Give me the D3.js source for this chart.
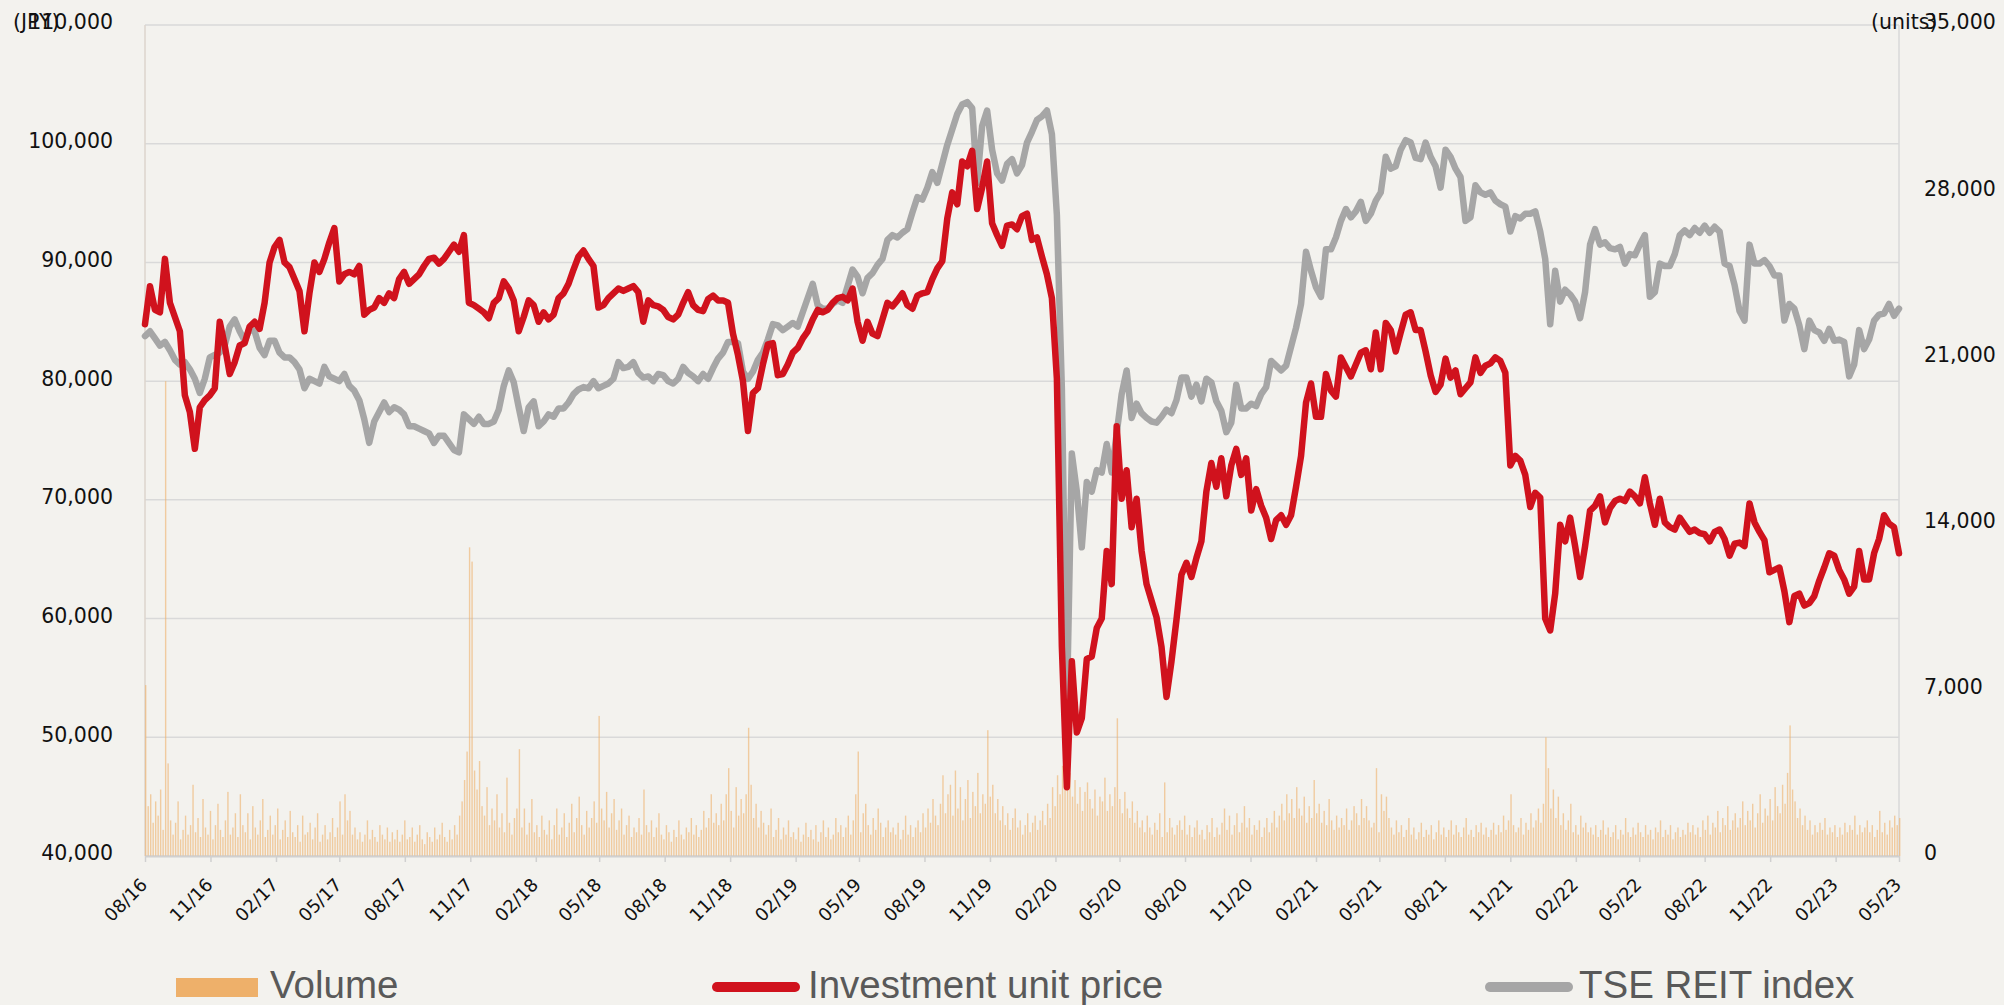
<!DOCTYPE html>
<html>
<head>
<meta charset="utf-8">
<script src="https://cdn.jsdelivr.net/npm/d3@7"></script>
<style>
  html, body { margin: 0; padding: 0; background: #f3f2ee; }
  svg { display: block; }
</style>
</head>
<body>
<svg id="chart" width="2004" height="1005"></svg>
<script>
// ---- data -------------------------------------------------------------
// Weekly closes starting from the first week of August 2016.
const seriesStart = "2016-08-01";

// x-axis labels (quarterly)
const tickLabels = ["08/16","11/16","02/17","05/17","08/17","11/17","02/18","05/18","08/18","11/18",
  "02/19","05/19","08/19","11/19","02/20","05/20","08/20","11/20","02/21","05/21",
  "08/21","11/21","02/22","05/22","08/22","11/22","02/23","05/23"];

const leftTicks = [40000, 50000, 60000, 70000, 80000, 90000, 100000, 110000];
const rightTicks = [0, 7000, 14000, 21000, 28000, 35000];

// Investment unit price (JPY), weekly
const unitPrice = [
  84800,88000,86000,85800,90300,86600,85400,84200,78800,77400,
  74300,77800,78400,78800,79400,85000,83000,80600,81600,83000,
  83200,84600,85000,84400,86600,90000,91300,91900,90000,89600,
  88600,87600,84200,87400,90000,89200,90300,91700,92900,88400,
  89000,89200,89000,89700,85600,86000,86200,87000,86600,87400,
  87000,88600,89200,88200,88600,89000,89700,90300,90400,89900,
  90300,90900,91500,90900,92300,86600,86400,86100,85800,85300,
  86600,87000,88400,87800,86800,84200,85400,86800,86400,85000,
  85800,85200,85600,87000,87400,88200,89400,90500,91000,90300,
  89700,86200,86400,87000,87400,87800,87600,87800,88000,87500,
  85000,86800,86400,86300,86000,85400,85200,85600,86600,87500,
  86400,86000,85900,86900,87200,86800,86800,86600,84000,82200,
  80000,75800,79000,79400,81400,83100,83200,80500,80600,81400,
  82400,82800,83600,84200,85200,86000,85800,86000,86600,87000,
  87100,86800,87800,85000,83400,85000,84000,83800,85200,86600,
  86300,86800,87400,86400,86100,87200,87400,87500,88600,89500,
  90100,93700,95900,94900,98500,98100,99400,94500,96300,98500,
  93300,92300,91400,93100,93200,92800,93900,94100,91900,92100,
  90500,89000,87000,80200,57600,45800,56400,50400,51600,56600,
  56800,59200,60000,65700,62900,76200,70100,72500,67700,70100,
  65700,62900,61500,60100,57600,53400,56400,59900,63700,64700,
  63500,65100,66500,70700,73100,71100,73500,70300,72900,74300,
  72100,73500,69100,70900,69500,68500,66700,68300,68700,67900,
  68700,71100,73700,78200,79800,77000,77000,80600,79200,78700,
  82000,81200,80400,81400,82400,82600,81000,84100,81000,84900,
  84300,82500,84100,85600,85800,84300,84300,82500,80500,79100,
  79700,81900,80300,80900,78900,79400,79900,82000,80700,81300,
  81500,82000,81700,80700,72900,73700,73300,72100,69400,70600,
  70200,60000,59000,62100,67900,66500,68500,66100,63500,66100,
  69100,69500,70300,68100,69300,69900,70100,69900,70700,70300,
  69700,71900,69700,67900,70100,68100,67700,67500,68500,67900,
  67300,67500,67200,67100,66500,67300,67500,66700,65300,66300,
  66400,66100,69700,68100,67300,66600,63900,64100,64300,62300,
  59700,61900,62100,61100,61300,61900,63200,64300,65500,65300,
  64100,63300,62100,62700,65700,63300,63300,65500,66700,68700,
  68000,67700,65500
];

// TSE REIT index, rebased to the unit price at the start of the period (JPY scale), weekly
const reitIndexRebased = [
  83800,84200,83600,83000,83300,82600,81800,81400,81600,81000,
  80200,79000,80200,82000,82200,82400,83000,84600,85200,84200,
  83400,84400,84200,82800,82200,83400,83400,82400,82000,82000,
  81600,81000,79400,80200,80000,79800,81200,80400,80200,80000,
  80600,79600,79200,78400,76800,74800,76600,77400,78200,77400,
  77800,77600,77200,76200,76200,76000,75800,75600,74800,75400,
  75400,74800,74200,74000,77200,76800,76400,77000,76400,76400,
  76600,77600,79600,80900,79900,77800,75800,77800,78300,76200,
  76600,77200,77000,77700,77700,78200,78900,79300,79500,79400,
  80000,79400,79600,79800,80200,81600,81100,81200,81600,80700,
  80300,80400,80000,80600,80500,80000,79800,80200,81200,80700,
  80400,80000,80600,80200,81100,81900,82400,83300,83300,83200,
  80800,80200,80800,81800,82400,83500,84800,84700,84300,84600,
  84900,84600,85800,87000,88200,86400,86100,86100,86500,86800,
  86600,88000,89400,88800,87400,88700,89100,89800,90300,91900,
  92300,92100,92500,92800,94200,95500,95300,96300,97600,96700,
  98300,99900,101200,102500,103300,103500,103000,96700,101500,102800,
  99500,97500,96900,98300,98700,97500,98200,100100,101000,102000,
  102300,102800,100800,94000,79400,52400,73900,70700,66000,71500,
  70700,72500,72300,74700,72300,75600,78900,80900,76900,78100,
  77300,76900,76600,76500,77000,77600,77300,78400,80300,80300,
  78700,79700,78300,80200,79900,78300,77500,75700,76500,79700,
  77700,77700,78100,77900,78900,79500,81700,81300,80900,81300,
  82900,84500,86500,90900,89300,87900,87100,91100,91100,92100,
  93500,94500,93800,94300,95100,93500,94100,95200,95900,98900,
  97900,98100,99500,100300,100100,98800,98700,100100,98900,98100,
  96300,99500,98900,97900,97200,93500,93800,96500,95900,95700,
  95900,95200,94900,94700,92600,93900,93700,94100,94100,94300,
  92600,90300,84800,89300,86700,87700,87300,86700,85300,87500,
  91500,92800,91500,91700,91200,91100,91300,89900,90700,90600,
  91500,92300,87100,87500,89900,89700,89700,90700,92300,92700,
  92300,92900,92500,93100,92500,93000,92600,89900,89700,88100,
  85900,85100,91500,89900,89900,90200,89700,88900,88900,85100,
  86500,86100,84700,82700,85100,84300,84100,83400,84400,83400,
  83500,83300,80400,81400,84300,82700,83500,85100,85600,85700,
  86500,85500,86100
];

// Trading volume (units), twice a week
const volume = [
  7200,2100,2600,1400,2300,1700,2800,1100,20000,3900,1500,900,1400,2300,700,1100,1700,900,1300,3000,
  1000,1600,800,2400,1200,900,1900,700,1300,2200,1100,800,1500,2700,900,1200,1800,800,2600,1300,
  1000,1800,700,2100,1200,900,1500,2400,800,1100,1700,900,1300,2000,700,1100,1500,800,1900,1000,
  800,1300,600,1700,900,1000,1400,700,1200,1800,600,900,1300,700,1000,1600,800,1200,2300,900,
  2600,1500,1900,900,1200,700,1000,600,900,1500,700,1100,800,600,1300,900,700,1200,600,1000,
  700,1100,600,900,1500,700,800,1200,600,900,1300,700,500,1000,800,600,1200,700,900,1400,
  800,600,1100,700,1300,900,1700,2300,3200,4400,13000,12400,3600,2800,4000,2100,1700,2900,1300,2000,
  1500,2600,1200,1800,1000,3300,1400,900,1600,2000,4500,1200,2000,900,1400,2400,1000,1300,800,1700,
  1100,900,1500,700,1300,2000,900,1200,1800,800,1400,2200,1000,1600,2500,1300,900,1900,1200,1600,
  2300,1400,5900,2000,1500,2700,1200,1800,2400,1100,1500,2000,900,1300,1700,800,1200,1000,1600,900,
  2800,1300,1000,1500,800,1200,1800,900,700,1300,1000,600,1100,800,1500,900,700,1200,1000,1600,
  900,1300,800,1100,1900,1200,1600,2600,1400,1800,1300,2200,1500,2600,3700,1900,1200,2900,1700,2400,
  1800,2600,5400,3000,1600,2200,1200,1900,1400,900,1300,2000,800,1100,1600,700,1200,900,1500,800,
  1000,700,1200,600,900,1400,800,1100,700,1300,600,1000,1500,800,1200,700,900,1600,1000,1300,
  800,1200,1700,900,1500,2600,4400,1000,1800,2200,1300,900,1600,1100,2000,1400,800,1200,1500,1000,
  1200,900,1400,700,1100,1700,900,1300,800,1200,1500,1000,1800,1200,2000,1400,2400,1700,1300,2200,
  3400,1800,2600,3000,1700,3600,2000,2900,1500,2400,3200,1600,2700,2100,3500,1800,2600,2200,5300,2500,
  3000,1800,2400,1500,2100,1300,1800,1100,1600,2000,1200,1500,900,1300,1800,1000,1400,1700,1100,1500,
  1900,1300,2200,1600,2900,2100,3400,2600,3800,3100,2800,3500,2500,3200,2200,2900,1900,2700,3100,2400,
  2000,2800,1700,2500,2300,3300,1900,2600,2100,2900,5800,2400,1800,2700,2000,1600,2300,1400,1900,1200,
  1500,1000,1700,1200,900,1400,1100,1800,800,3100,1000,1600,1200,900,1300,1500,1100,1700,900,1300,
  800,1200,1500,900,1100,700,1300,1000,1600,800,1200,900,1400,2000,1100,1700,900,1300,1800,1000,
  1400,2100,1200,1600,900,1300,1100,1500,800,1200,1600,1000,1400,1900,1200,1700,2200,1500,2600,1800,
  2400,1600,2900,2000,1700,2500,1400,2100,1600,3200,1800,2200,1400,1900,1300,2400,1500,1100,1700,1200,
  1600,1300,2000,1100,1500,2100,1800,1300,2400,1600,2100,1500,1200,1400,3700,1000,2600,1900,2500,1600,
  1200,900,1500,1000,1300,800,1100,1600,900,1200,700,1000,1400,800,1100,900,1300,700,1000,1500,
  900,1200,800,1100,1500,900,1300,1000,800,1200,1600,900,1100,800,1300,1000,1400,900,1200,800,
  1100,1400,900,1300,1000,1700,1100,1500,2600,1300,1000,1200,1600,900,1400,1100,1800,1200,1500,2000,
  1400,2200,5000,3700,2000,2800,1600,2500,1300,1800,1100,1500,2200,1000,1300,900,1700,1200,1400,1000,
  1200,900,1300,800,1100,1500,900,1200,800,1000,1300,700,1100,900,1600,1000,800,1200,900,1400,
  1000,800,1300,900,1100,700,1200,1000,1500,800,1100,900,1300,700,1000,1200,800,1100,900,1400,
  1000,1300,900,1200,800,1500,1100,1700,900,1400,1200,1900,1000,1600,1300,2100,1100,1500,1800,1200,
  1600,2300,1300,1900,1500,2200,1200,1800,2600,1400,2000,1700,2400,1500,2900,2100,1800,3000,2200,3500,
  5500,2800,2300,1600,2000,1300,1700,1100,1500,900,1300,1000,1400,1100,1600,900,1200,1000,1300,800,
  1200,900,1400,1000,1300,1100,1700,900,1300,1000,1200,1500,1000,1300,800,1100,1900,1000,1400,900,
  1500,1200,1700,1300,1600
];

const legendItems = ["Volume", "Investment unit price", "TSE REIT index"];

// ---- layout -----------------------------------------------------------
const plot = { left: 145, right: 1899, top: 25, bottom: 856 };
const colors = { volume: "#eeb06a", price: "#d0121d", reit: "#a6a6a6", grid: "#d9d9d9" };
const axisFont = "'DejaVu Sans', Verdana, sans-serif";
const legendFont = "'Liberation Sans', Arial, sans-serif";

const svg = d3.select("#chart");
svg.append("rect").attr("width", 2004).attr("height", 1005).attr("fill", "#f3f2ee");

const parseDay = d3.utcParse("%Y-%m-%d");
const parseMonth = d3.utcParse("%m/%y");
const start = parseDay(seriesStart);
const tickDates = tickLabels.map(parseMonth);
const end = tickDates[tickDates.length - 1];

const x = d3.scaleUtc().domain([start, end]).range([plot.left, plot.right]);
const yLeft = d3.scaleLinear().domain([40000, 110000]).range([plot.bottom, plot.top]);
const yRight = d3.scaleLinear().domain([0, 35000]).range([plot.bottom, plot.top]);

const priceData = unitPrice.map((v, k) => ({ date: d3.utcDay.offset(start, 7 * k), v }));
const reitData = reitIndexRebased.map((v, k) => ({ date: d3.utcDay.offset(start, 7 * k), v }));
const volumeData = volume
  .map((v, j) => ({ date: d3.utcHour.offset(start, 84 * j), v }))
  .filter(d => d.date <= end);

// gridlines
svg.append("g")
  .selectAll("line")
  .data(leftTicks)
  .join("line")
  .attr("x1", plot.left).attr("x2", plot.right)
  .attr("y1", d => yLeft(d)).attr("y2", d => yLeft(d))
  .attr("stroke", colors.grid).attr("stroke-width", 1.5);

// frame sides
svg.append("line").attr("x1", plot.left).attr("x2", plot.left)
  .attr("y1", plot.top).attr("y2", plot.bottom)
  .attr("stroke", "#ddd5cc").attr("stroke-width", 1.5);
svg.append("line").attr("x1", plot.right).attr("x2", plot.right)
  .attr("y1", plot.top).attr("y2", plot.bottom)
  .attr("stroke", colors.grid).attr("stroke-width", 1.5);

// volume bars
svg.append("g")
  .selectAll("rect")
  .data(volumeData)
  .join("rect")
  .attr("x", d => x(d.date))
  .attr("width", 1.4)
  .attr("y", d => yRight(d.v))
  .attr("height", d => plot.bottom - yRight(d.v))
  .attr("fill", colors.volume)
  .attr("fill-opacity", 0.6);

// lines
const line = d3.line().x(d => x(d.date)).y(d => yLeft(d.v));
svg.append("path").datum(reitData)
  .attr("d", line).attr("fill", "none")
  .attr("stroke", colors.reit).attr("stroke-width", 6.5)
  .attr("stroke-linejoin", "round").attr("stroke-linecap", "round");
svg.append("path").datum(priceData)
  .attr("d", line).attr("fill", "none")
  .attr("stroke", colors.price).attr("stroke-width", 6.5)
  .attr("stroke-linejoin", "round").attr("stroke-linecap", "round");

// x axis
const xAxis = svg.append("g")
  .attr("transform", `translate(0,${plot.bottom})`)
  .call(d3.axisBottom(x).tickValues(tickDates).tickSize(6).tickSizeOuter(0)
    .tickFormat(d3.utcFormat("%m/%y")));
xAxis.select(".domain").attr("stroke", "#d0d0d0").attr("stroke-width", 2);
xAxis.selectAll(".tick line").attr("stroke", "#d0d0d0").attr("stroke-width", 1.5);
xAxis.selectAll(".tick text")
  .attr("x", null).attr("y", null).attr("dy", "0.35em")
  .attr("text-anchor", "end")
  .attr("transform", "translate(-1.5,25.5) rotate(-45)")
  .attr("font-family", axisFont).attr("font-size", 18).attr("fill", "#111");

// left axis
const leftAxis = svg.append("g")
  .attr("transform", `translate(${plot.left},0)`)
  .call(d3.axisLeft(yLeft).tickValues(leftTicks).tickSize(0).tickPadding(32)
    .tickFormat(d3.format(",")));
leftAxis.select(".domain").remove();
leftAxis.selectAll(".tick text").attr("dy", "0.19em")
  .attr("font-family", axisFont).attr("font-size", 20.5).attr("fill", "#111");

// right axis
const rightAxis = svg.append("g")
  .attr("transform", `translate(${plot.right},0)`)
  .call(d3.axisRight(yRight).tickValues(rightTicks).tickSize(0).tickPadding(25)
    .tickFormat(d3.format(",")));
rightAxis.select(".domain").remove();
rightAxis.selectAll(".tick text").attr("dy", "0.19em")
  .attr("font-family", axisFont).attr("font-size", 20.5).attr("fill", "#111");

// unit captions
svg.append("text").attr("x", 13).attr("y", yLeft(110000) + 4)
  .attr("font-family", axisFont).attr("font-size", 20.5).attr("fill", "#111")
  .text("(JPY)");
svg.append("text").attr("x", 1871).attr("y", yRight(35000) + 4)
  .attr("font-family", axisFont).attr("font-size", 20.5).attr("fill", "#111")
  .text("(units)");

// legend
const legend = svg.append("g").attr("font-family", legendFont)
  .attr("font-size", 38.5).attr("fill", "#595959");
legend.append("rect").attr("x", 176).attr("y", 978).attr("width", 82).attr("height", 19)
  .attr("fill", colors.volume);
legend.append("text").attr("x", 270).attr("y", 998).text(legendItems[0]);
legend.append("line").attr("x1", 717).attr("x2", 795).attr("y1", 987).attr("y2", 987)
  .attr("stroke", colors.price).attr("stroke-width", 10).attr("stroke-linecap", "round");
legend.append("text").attr("x", 808).attr("y", 998).text(legendItems[1]);
legend.append("line").attr("x1", 1490).attr("x2", 1568).attr("y1", 987).attr("y2", 987)
  .attr("stroke", colors.reit).attr("stroke-width", 10).attr("stroke-linecap", "round");
legend.append("text").attr("x", 1579).attr("y", 998).text(legendItems[2]);
</script>
</body>
</html>
